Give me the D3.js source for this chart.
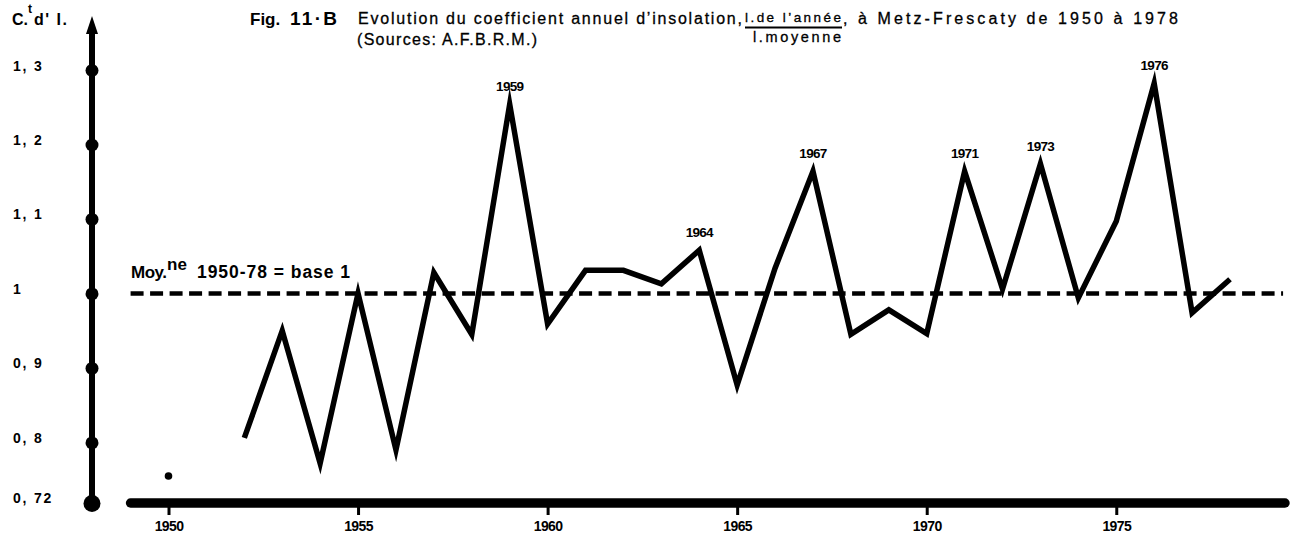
<!DOCTYPE html>
<html>
<head>
<meta charset="utf-8">
<script src="https://cdn.jsdelivr.net/npm/d3@7/dist/d3.min.js"></script>
<style>
  html, body { margin: 0; padding: 0; background: #fff; }
  svg { display: block; }
  text { font-family: "Liberation Sans", Arial, sans-serif; fill: #000; }
</style>
</head>
<body>
<svg id="chart" width="1296" height="540"></svg>
<script>
// Annual sunshine coefficient at Metz-Frescaty, 1950-1978 (1951 missing)
const years = [1950, 1951, 1952, 1953, 1954, 1955, 1956, 1957, 1958, 1959,
               1960, 1961, 1962, 1963, 1964, 1965, 1966, 1967, 1968, 1969,
               1970, 1971, 1972, 1973, 1974, 1975, 1976, 1977, 1978];
const coefficients = [0.755, null, 0.806, 0.95, 0.772, 1.0, 0.79, 1.028, 0.945, 1.254,
                      0.959, 1.031, 1.031, 1.013, 1.058, 0.877, 1.034, 1.164, 0.945, 0.978,
                      0.946, 1.164, 1.006, 1.174, 0.994, 1.097, 1.282, 0.974, 1.019];
const labelledYears = [1959, 1964, 1967, 1971, 1973, 1976];
const meanValue = 1;

const yTickValues = [0.72, 0.8, 0.9, 1, 1.1, 1.2, 1.3];
const yTickLabels = ["0, 72", "0, 8", "0, 9", "1", "1, 1", "1, 2", "1, 3"];
const xTickValues = [1950, 1955, 1960, 1965, 1970, 1975];

const data = years.map((yr, i) => ({ year: yr, value: coefficients[i] }));

const svg = d3.select("#chart");

const x = d3.scaleLinear().domain([1950, 1978]).range([168.5, 1230]);
const y = d3.scaleLinear().domain([0.72, 1.3]).range([502, 70]);

const axisX = 92;
const baseY = 503;

// ---- vertical axis with dotted graduations and arrow ----
svg.append("line")
  .attr("x1", axisX).attr("x2", axisX)
  .attr("y1", 30).attr("y2", baseY)
  .attr("stroke", "#000").attr("stroke-width", 6);
svg.append("path")
  .attr("d", `M${axisX},16 L${axisX - 6},34 L${axisX + 6},34 Z`)
  .attr("fill", "#000");

const yAxis = d3.axisLeft(y)
  .tickValues(yTickValues)
  .tickFormat((d, i) => yTickLabels[i])
  .tickSize(0);
const gy = svg.append("g")
  .attr("transform", `translate(${axisX},0)`)
  .call(yAxis);
gy.select(".domain").remove();
gy.selectAll(".tick text")
  .attr("x", -79).attr("dy", "0")
  .attr("text-anchor", "start")
  .style("font-size", "14px")
  .style("font-weight", "bold")
  .style("letter-spacing", "1.8px")
  .style("font-family", "'Liberation Sans', Arial, sans-serif")
  .attr("fill", "#000");
gy.selectAll(".tick")
  .append("circle")
  .attr("r", d => d === 0.72 ? 8.5 : 6.5)
  .attr("cy", d => d === 0.72 ? 1 : 0)
  .attr("fill", "#000");

// axis title C.t d' I.
const yTitle = svg.append("text")
  .attr("x", 12).attr("y", 25)
  .style("font-size", "16px").style("font-weight", "bold");
yTitle.append("tspan").text("C.");
yTitle.append("tspan").attr("dx", 0).attr("dy", -12)
  .style("font-size", "12px").text("t");
yTitle.append("tspan").attr("dx", 2).attr("dy", 12)
  .style("letter-spacing", "1.5px").text("d' I.");

// ---- horizontal axis ----
svg.append("line")
  .attr("x1", x(1949)).attr("x2", x(1979.45))
  .attr("y1", baseY).attr("y2", baseY)
  .attr("stroke", "#000").attr("stroke-width", 9.5)
  .attr("stroke-linecap", "round");

const xAxis = d3.axisBottom(x)
  .tickValues(xTickValues)
  .tickFormat(d3.format("d"))
  .tickSize(12)
  .tickPadding(6);
const gx = svg.append("g")
  .attr("transform", `translate(0,${baseY})`)
  .call(xAxis);
gx.select(".domain").remove();
gx.selectAll(".tick line").attr("stroke", "#000").attr("stroke-width", 3);
gx.selectAll(".tick text")
  .style("font-size", "14px")
  .style("font-weight", "bold")
  .style("letter-spacing", "-0.6px")
  .style("font-family", "'Liberation Sans', Arial, sans-serif")
  .attr("fill", "#000");

// ---- mean line (base 1) ----
svg.append("line")
  .attr("x1", x(1949)).attr("x2", x(1979.4))
  .attr("y1", y(meanValue)).attr("y2", y(meanValue))
  .attr("stroke", "#000").attr("stroke-width", 4.5)
  .attr("stroke-dasharray", "13,6.5");

const moy = svg.append("g").style("font-weight", "bold");
moy.append("text").attr("x", 131).attr("y", 278)
  .style("font-size", "17px").style("letter-spacing", "-0.5px")
  .text("Moy.");
moy.append("text").attr("x", 167).attr("y", 270)
  .style("font-size", "17px").text("ne");
moy.append("text").attr("x", 197).attr("y", 278)
  .style("font-size", "17.5px")
  .attr("textLength", 153).attr("lengthAdjust", "spacing")
  .text("1950-78 = base 1");

// ---- data line ----
const line = d3.line()
  .defined(d => d.value !== null)
  .x(d => x(d.year))
  .y(d => y(d.value));

svg.append("path")
  .datum(data)
  .attr("d", line)
  .attr("fill", "none")
  .attr("stroke", "#000")
  .attr("stroke-width", 5.5)
  .attr("stroke-linejoin", "miter")
  .attr("stroke-miterlimit", 10)
  .attr("stroke-linecap", "butt");

// isolated values (no neighbour to connect to)
const isolated = data.filter((d, i) => d.value !== null &&
  (i === 0 || data[i - 1].value === null) &&
  (i === data.length - 1 || data[i + 1].value === null));
svg.selectAll("circle.isolated")
  .data(isolated)
  .enter().append("circle")
  .attr("class", "isolated")
  .attr("cx", d => x(d.year))
  .attr("cy", d => y(d.value))
  .attr("r", 3.8)
  .attr("fill", "#000");

// year labels above the notable peaks
svg.selectAll("text.peak")
  .data(data.filter(d => labelledYears.includes(d.year)))
  .enter().append("text")
  .attr("class", "peak")
  .attr("x", d => x(d.year))
  .attr("y", d => y(d.value) - 13)
  .attr("text-anchor", "middle")
  .style("font-size", "13.5px")
  .style("font-weight", "bold")
  .style("letter-spacing", "-0.7px")
  .text(d => d.year);

// ---- title ----
const title = svg.append("g");
title.append("text").attr("x", 250).attr("y", 25)
  .style("font-size", "17px").style("font-weight", "bold").text("Fig.");
title.append("text").attr("x", 290).attr("y", 25)
  .style("font-size", "19px").style("font-weight", "bold")
  .attr("textLength", 47).attr("lengthAdjust", "spacing")
  .text("11·B");
const plain = [];
plain.push(title.append("text").attr("x", 358).attr("y", 24)
  .style("font-size", "16px")
  .attr("textLength", 384).attr("lengthAdjust", "spacing")
  .text("Evolution du coefficient annuel d’insolation,"));
plain.push(title.append("text").attr("x", 357).attr("y", 45)
  .style("font-size", "16px")
  .attr("textLength", 180).attr("lengthAdjust", "spacing")
  .text("(Sources: A.F.B.R.M.)"));
// fraction I. de l'année / I. moyenne
plain.push(title.append("text").attr("x", 745).attr("y", 22)
  .style("font-size", "13.5px")
  .attr("textLength", 96).attr("lengthAdjust", "spacing")
  .text("l.de l’année"));
title.append("line")
  .attr("x1", 745).attr("x2", 842).attr("y1", 27.5).attr("y2", 27.5)
  .attr("stroke", "#000").attr("stroke-width", 2.2);
plain.push(title.append("text").attr("x", 753).attr("y", 42)
  .style("font-size", "14.5px")
  .attr("textLength", 88).attr("lengthAdjust", "spacing")
  .text("l.moyenne"));
plain.push(title.append("text").attr("x", 843).attr("y", 24)
  .style("font-size", "16px")
  .attr("textLength", 335).attr("lengthAdjust", "spacing")
  .text(", à Metz-Frescaty de 1950 à 1978"));
plain.forEach(t => t.style("stroke", "#000").style("stroke-width", "0.3px"));
</script>
</body>
</html>
